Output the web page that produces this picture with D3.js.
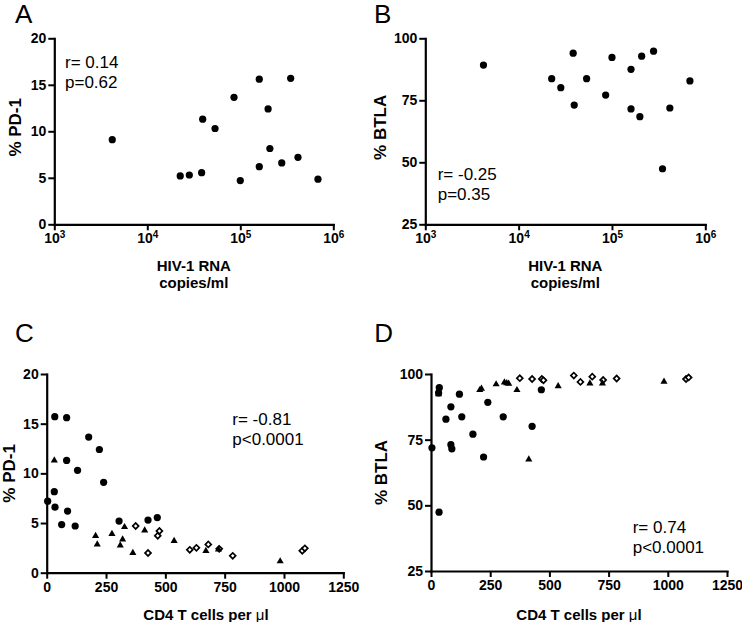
<!DOCTYPE html>
<html>
<head>
<meta charset="utf-8">
<script src="https://cdn.jsdelivr.net/npm/d3@7"></script>
<style>
  body { margin: 0; background: #fff; }
  svg text { font-family: "Liberation Sans", Arial, sans-serif; fill: #000; }
</style>
</head>
<body>
<svg id="fig" width="742" height="622"></svg>
<script>
// viremic patients (filled circles) - same people in A, B, C and D
var rnaCopies = [4200, 22600, 28300, 38400, 39400, 53500, 85600, 100000, 160000, 160000, 199000, 208000, 279000, 348000, 417000, 684000];
var cd4Circle = [240, 305, 427, 466, 84, 130, 177, 120, 84, 88, 222, 32, 35, 34, 4, 63];
var pd1Circle = [9.1, 5.2, 5.3, 5.55, 11.3, 10.3, 13.65, 4.7, 15.6, 6.2, 12.4, 8.15, 6.6, 15.7, 7.2, 4.85];
var btlaCircle = [89.2, 83.7, 80.1, 94.0, 73.1, 83.7, 77.1, 92.3, 87.5, 71.5, 68.4, 92.8, 94.8, 47.4, 71.9, 82.8];

// filled triangles (C, D)
var cd4Triangle = [32, 206, 213, 275, 310, 320, 328, 363, 413, 537, 671, 724, 984];
var pd1Triangle = [11.3, 3.7, 2.85, 3.9, 2.75, 3.36, 4.6, 2.0, 4.26, 3.2, 2.2, 2.35, 1.15];
var btlaTriangle = [92.3, 93.9, 94.4, 96.1, 96.8, 96.5, 96.3, 93.9, 67.5, 95.4, 96.4, 96.4, 97.1];

// open diamonds (C, D)
var cd4Diamond = [375, 427, 468, 475, 603, 631, 681, 727, 784, 1077, 1088];
var pd1Diamond = [4.7, 1.98, 3.72, 4.2, 2.3, 2.5, 2.85, 2.4, 1.7, 2.2, 2.45];
var btlaDiamond = [98.4, 98.1, 98.1, 97.6, 99.4, 97.0, 99.0, 97.7, 98.3, 98.1, 98.7];

var pd1Ticks = [0, 5, 10, 15, 20];
var btlaTicks = [25, 50, 75, 100];
var rnaTicks = [1e3, 1e4, 1e5, 1e6];
var cd4Ticks = [0, 250, 500, 750, 1000, 1250];

var svg = d3.select("#fig");

var circleSym = d3.symbol().type(d3.symbolCircle).size(41);
var triangleSym = d3.symbol().type(d3.symbolTriangle).size(22);
var diamondSym = d3.symbol().type(d3.symbolSquare).size(17.6);

var panels = [
  { letter: "A", lx: 15, ly: 23, left: 54.3, top: 38.3, width: 279, height: 186,
    xLog: true, yDomain: [0, 20], yTicks: pd1Ticks, yTitle: "% PD-1", yTitleX: 21, yTitleDy: -4,
    xTitle: ["HIV-1 RNA", "copies/ml"], xTitleDx: 0, xTitleY: 270.7,
    r: "r= 0.14", p: "p=0.62", ax: 65, ay: 68,
    series: [{ x: rnaCopies, y: pd1Circle, kind: "circle" }] },
  { letter: "B", lx: 374, ly: 23, left: 425.3, top: 38.3, width: 280, height: 186,
    xLog: true, yDomain: [25, 100], yTicks: btlaTicks, yTitle: "% BTLA", yTitleX: 386, yTitleDy: -4,
    xTitle: ["HIV-1 RNA", "copies/ml"], xTitleDx: 0, xTitleY: 270.7,
    r: "r= -0.25", p: "p=0.35", ax: 437.7, ay: 180,
    series: [{ x: rnaCopies, y: btlaCircle, kind: "circle" }] },
  { letter: "C", lx: 15, ly: 342, left: 46.7, top: 374, width: 296.6, height: 198.7,
    xLog: false, yDomain: [0, 20], yTicks: pd1Ticks, yTitle: "% PD-1", yTitleX: 15, yTitleDy: 0,
    xTitle: ["CD4 T cells per ", "\u03bc", "l"], xTitleDx: 11, xTitleY: 620,
    r: "r= -0.81", p: "p<0.0001", ax: 232.3, ay: 425,
    series: [
      { x: cd4Circle, y: pd1Circle, kind: "circle" },
      { x: cd4Diamond, y: pd1Diamond, kind: "diamond" },
      { x: cd4Triangle, y: pd1Triangle, kind: "triangle" }
    ] },
  { letter: "D", lx: 374.3, ly: 342, left: 431, top: 374, width: 296, height: 197,
    xLog: false, yDomain: [25, 100], yTicks: btlaTicks, yTitle: "% BTLA", yTitleX: 387, yTitleDy: 0,
    xTitle: ["CD4 T cells per ", "\u03bc", "l"], xTitleDx: 0, xTitleY: 620,
    r: "r= 0.74", p: "p<0.0001", ax: 632.7, ay: 533,
    series: [
      { x: cd4Circle, y: btlaCircle, kind: "circle" },
      { x: cd4Diamond, y: btlaDiamond, kind: "diamond" },
      { x: cd4Triangle, y: btlaTriangle, kind: "triangle" }
    ] }
];

function drawPanel(p) {
  var g = svg.append("g");

  var x = p.xLog ? d3.scaleLog().domain([1e3, 1e6]) : d3.scaleLinear().domain([0, 1250]);
  x.range([p.left, p.left + p.width]);
  var y = d3.scaleLinear().domain(p.yDomain).range([p.top + p.height, p.top]);

  var xAxis = d3.axisBottom(x)
    .tickValues(p.xLog ? rnaTicks : cd4Ticks)
    .tickSize(6).tickSizeOuter(0).tickPadding(3)
    .tickFormat(function (d) { return p.xLog ? "" : d; });
  var yAxis = d3.axisLeft(y)
    .tickValues(p.yTicks)
    .tickSize(6).tickSizeOuter(0).tickPadding(2);

  var gx = g.append("g")
    .attr("transform", "translate(0," + (p.top + p.height) + ")")
    .call(xAxis);
  var gy = g.append("g")
    .attr("transform", "translate(" + p.left + ",0)")
    .call(yAxis);

  [gx, gy].forEach(function (ax) {
    ax.select(".domain").attr("stroke", "#000").attr("stroke-width", 2.2).attr("stroke-linecap", "square");
    ax.selectAll(".tick line").attr("stroke", "#000").attr("stroke-width", 2);
    ax.selectAll(".tick text")
      .attr("font-size", 14).attr("font-weight", "bold")
      .attr("font-family", "'Liberation Sans', Arial, sans-serif");
  });

  // 10^n labels for the log axis
  if (p.xLog) {
    gx.selectAll(".tick text").each(function (d) {
      var t = d3.select(this);
      t.append("tspan").text("10");
      t.append("tspan").attr("font-size", 10).attr("dy", -5)
        .text(Math.round(Math.log10(d)));
    });
  }

  // markers
  p.series.forEach(function (s) {
    var pts = d3.zip(s.x, s.y);
    var sel = g.append("g").selectAll("path").data(pts).join("path");
    if (s.kind == "circle") {
      sel.attr("d", circleSym).attr("fill", "#000")
        .attr("transform", function (d) { return "translate(" + x(d[0]) + "," + y(d[1]) + ")"; });
    } else if (s.kind == "triangle") {
      sel.attr("d", triangleSym).attr("fill", "#000")
        .attr("transform", function (d) { return "translate(" + x(d[0]) + "," + y(d[1]) + ")"; });
    } else {
      sel.attr("d", diamondSym).attr("fill", "#fff").attr("stroke", "#000").attr("stroke-width", 1.7)
        .attr("transform", function (d) { return "translate(" + x(d[0]) + "," + y(d[1]) + ") rotate(45)"; });
    }
  });

  // panel letter
  g.append("text").attr("x", p.lx).attr("y", p.ly)
    .attr("font-size", 26).text(p.letter);

  // r / p annotation
  g.append("text").attr("x", p.ax).attr("y", p.ay).attr("font-size", 17).text(p.r);
  g.append("text").attr("x", p.ax).attr("y", p.ay + 19.5).attr("font-size", 17).text(p.p);

  // y title
  g.append("text")
    .attr("transform", "translate(" + p.yTitleX + "," + (p.top + p.height / 2 + p.yTitleDy) + ") rotate(-90)")
    .attr("text-anchor", "middle").attr("font-size", 17).attr("font-weight", "bold")
    .text(p.yTitle);

  // x title
  var cx = p.left + p.width / 2 + p.xTitleDx;
  if (p.xLog) {
    p.xTitle.forEach(function (line, i) {
      g.append("text").attr("x", cx).attr("y", p.xTitleY + i * 17.6)
        .attr("text-anchor", "middle").attr("font-size", 15).attr("font-weight", "bold")
        .text(line);
    });
  } else {
    var t = g.append("text").attr("x", cx).attr("y", p.xTitleY)
      .attr("text-anchor", "middle").attr("font-size", 15).attr("font-weight", "bold");
    t.append("tspan").text(p.xTitle[0]);
    t.append("tspan").attr("font-weight", "normal").text(p.xTitle[1]);
    t.append("tspan").text(p.xTitle[2]);
  }
}

panels.forEach(drawPanel);
</script>
</body>
</html>
